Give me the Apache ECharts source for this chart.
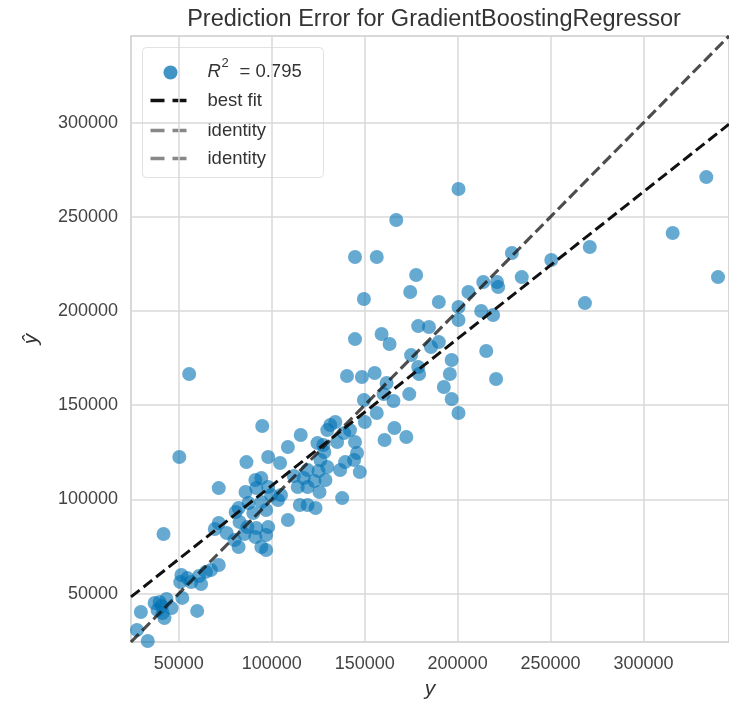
<!DOCTYPE html>
<html>
<head>
<meta charset="utf-8">
<script src="https://cdn.jsdelivr.net/npm/echarts@6/dist/echarts.min.js"></script>
<style>
  html, body { margin: 0; padding: 0; background: #ffffff; }
  #chart { width: 729px; height: 706px; }
</style>
</head>
<body>
<div id="chart"></div>
<script>
// Observed target values (y) for the test set
const actual = [
  27500, 33300, 29600, 37000, 39700, 43400, 46100, 38600, 42300, 40800,
  41300, 59900, 51400, 50800, 54600, 51900, 62000, 64600, 60900, 71500,
  67300, 56700, 41800, 55600, 50300, 69400, 71500, 75800, 80000, 82200,
  85300, 82700, 86900, 91700, 91200, 94400, 98100, 97000, 97000, 94900,
  115600, 124600, 108700, 98100, 104500, 86400, 128300, 71500, 91200, 94400,
  91700, 98100, 99700, 85900, 94400, 82200, 87500, 80600, 90100, 97000,
  103400, 105000, 111900, 117200, 114000, 119300, 123000, 125200, 119300, 115100,
  119300, 123600, 108700, 140500, 148500, 155400, 161800, 149600, 160200, 165500,
  156500, 150100, 166000, 160700, 172400, 131500, 134200, 129900, 142100, 139000,
  127800, 135200, 144800, 145900, 144300, 139500, 136800, 129900, 126200, 147400,
  128900, 137900, 144800, 156500, 177700, 174500, 149600, 189900, 200500, 205800,
  213800, 212700, 219100, 221200, 221800, 229200, 234500, 250400, 178800, 184600,
  200500, 144800, 159100, 163400, 189900, 185700, 196800, 215400, 175000, 178800,
  195800, 192600, 196800, 174000, 200500, 220700, 167000, 200500, 333800, 315700,
  340100, 271100, 268500, 179300, 125700
];

// Model predictions (ŷ) for the same rows
const predicted = [
  30700, 24800, 40200, 45000, 45500, 47100, 42300, 41300, 37000, 43400,
  39700, 40800, 59900, 56100, 58300, 47700, 55100, 61500, 59300, 65200,
  62500, 56100, 81600, 166600, 122500, 84300, 87500, 82200, 78400, 74700,
  81600, 88000, 85300, 84800, 80000, 74700, 85300, 81100, 73100, 139000,
  134200, 129900, 127800, 122500, 119300, 119800, 125200, 106000, 110300, 111400,
  106000, 106600, 102300, 103900, 98600, 95400, 98100, 93300, 92800, 94400,
  99700, 102300, 112400, 111400, 106600, 106600, 109800, 115100, 115600, 97000,
  97000, 95400, 89100, 165500, 165000, 167100, 161800, 152800, 155900, 152200,
  145900, 141100, 137900, 131500, 133100, 139500, 141100, 136800, 136800, 135200,
  128900, 130500, 130500, 124600, 120900, 119800, 115600, 117200, 120900, 114500,
  110300, 100700, 228700, 228700, 219100, 210100, 206400, 204800, 202100, 210100,
  215400, 200000, 197900, 215400, 212700, 230800, 218000, 227100, 192000, 191500,
  195200, 185100, 187800, 182500, 183500, 180900, 174000, 178800, 176600, 170300,
  166600, 159700, 153300, 155900, 145900, 163900, 248300, 264800, 271100, 241400,
  218000, 234000, 204200, 166600, 103900
];

// Fit statistics shown on the chart
const r2Score = 0.795;
const fitSlope = 0.78;
const fitIntercept = 29300;

// Shared limits of both axes, and the labelled tick values
const axisMin = 24300;
const axisMax = 346000;
const tickValues = [50000, 100000, 150000, 200000, 250000, 300000];

const chartTitle = 'Prediction Error for GradientBoostingRegressor';

const points = actual.map((v, i) => [v, predicted[i]]);
const fitLine = [
  [axisMin, fitIntercept + fitSlope * axisMin],
  [axisMax, fitIntercept + fitSlope * axisMax]
];
const identityLine = [[axisMin, axisMin], [axisMax, axisMax]];

const FONT = '"Liberation Sans", Arial, "DejaVu Sans", sans-serif';
const TITLE_SIZE = 23.5;

// centre the title over the plot area
const plotLeft = 131, plotTop = 36, plotSize = 606;
const measureCtx = document.createElement('canvas').getContext('2d');
measureCtx.font = TITLE_SIZE + 'px ' + FONT;
const titleWidth = measureCtx.measureText(chartTitle).width;
const titleLeft = plotLeft + plotSize / 2 - titleWidth / 2;

const gridColor = '#d9d9d9';

function valueAxis(name, extra) {
  return Object.assign({
    type: 'value',
    min: axisMin,
    max: axisMax,
    name: name,
    nameLocation: 'middle',
    nameTextStyle: { fontFamily: FONT, fontSize: 21, fontStyle: 'italic', color: '#333333' },
    axisLine: { show: false },
    axisTick: { show: false, customValues: tickValues },
    axisLabel: {
      customValues: tickValues,
      formatter: (v) => String(v),
      fontFamily: FONT,
      fontSize: 18,
      color: '#444444',
      margin: 13
    },
    splitLine: { show: true, lineStyle: { color: gridColor, width: 1.5 } }
  }, extra);
}

const xAx = valueAxis('y', { nameGap: 37 });
const yAx = valueAxis('ŷ', { nameGap: 89, nameRotate: 90 });

const legendX = 142, legendY = 47;
const legendText = { fontFamily: FONT, fontSize: 18.5, fill: '#333333', verticalAlign: 'middle' };

const option = {
  backgroundColor: '#ffffff',
  animation: false,
  title: {
    text: chartTitle,
    left: titleLeft,
    top: 8,
    padding: 0,
    textStyle: { fontFamily: FONT, fontSize: TITLE_SIZE, fontWeight: 'normal', color: '#333333' }
  },
  grid: {
    left: plotLeft, top: plotTop, width: plotSize, height: plotSize,
    show: true, borderColor: '#cccccc', borderWidth: 1.5, backgroundColor: '#ffffff'
  },
  xAxis: xAx,
  yAxis: yAx,
  series: [
    {
      name: 'R2',
      type: 'scatter',
      data: points,
      symbol: 'circle',
      symbolSize: 14,
      itemStyle: { color: 'rgba(0,114,178,0.75)' },
      z: 2
    },
    {
      name: 'best fit',
      type: 'line',
      data: fitLine,
      symbol: 'none',
      lineStyle: { color: '#111111', width: 3, type: [11, 5] },
      z: 3
    },
    {
      name: 'identity',
      type: 'line',
      data: identityLine,
      symbol: 'none',
      lineStyle: { color: 'rgba(17,17,17,0.5)', width: 3, type: [11, 5] },
      z: 4
    },
    {
      name: 'identity',
      type: 'line',
      data: identityLine,
      symbol: 'none',
      lineStyle: { color: 'rgba(17,17,17,0.5)', width: 3, type: [11, 5] },
      z: 4
    }
  ],
  graphic: [
    {
      type: 'group',
      left: legendX,
      top: legendY,
      z: 100,
      children: [
        {
          type: 'rect',
          shape: { x: 0, y: 0, width: 181, height: 130, r: 4 },
          style: { fill: 'rgba(255,255,255,0.8)', stroke: '#e2e2e2', lineWidth: 1 }
        },
        {
          type: 'circle',
          shape: { cx: 28, cy: 25, r: 7 },
          style: { fill: 'rgba(0,114,178,0.75)' }
        },
        {
          type: 'text', x: 65, y: 24,
          style: Object.assign({}, legendText, { text: 'R', fontStyle: 'italic' })
        },
        {
          type: 'text', x: 79, y: 16,
          style: Object.assign({}, legendText, { text: '2', fontSize: 13 })
        },
        {
          type: 'text', x: 97, y: 24,
          style: Object.assign({}, legendText, { text: '= ' + r2Score.toFixed(3) })
        },
        {
          type: 'line',
          shape: { x1: 8, y1: 53, x2: 44, y2: 53 },
          style: { stroke: '#111111', lineWidth: 3.5, lineDash: [14, 8] }
        },
        {
          type: 'text', x: 65, y: 53,
          style: Object.assign({}, legendText, { text: 'best fit' })
        },
        {
          type: 'line',
          shape: { x1: 8, y1: 83, x2: 44, y2: 83 },
          style: { stroke: 'rgba(17,17,17,0.5)', lineWidth: 3.5, lineDash: [14, 8] }
        },
        {
          type: 'text', x: 65, y: 83,
          style: Object.assign({}, legendText, { text: 'identity' })
        },
        {
          type: 'line',
          shape: { x1: 8, y1: 111, x2: 44, y2: 111 },
          style: { stroke: 'rgba(17,17,17,0.5)', lineWidth: 3.5, lineDash: [14, 8] }
        },
        {
          type: 'text', x: 65, y: 111,
          style: Object.assign({}, legendText, { text: 'identity' })
        }
      ]
    }
  ]
};

const chart = echarts.init(document.getElementById('chart'), null, { renderer: 'canvas' });
chart.setOption(option);
</script>
</body>
</html>
